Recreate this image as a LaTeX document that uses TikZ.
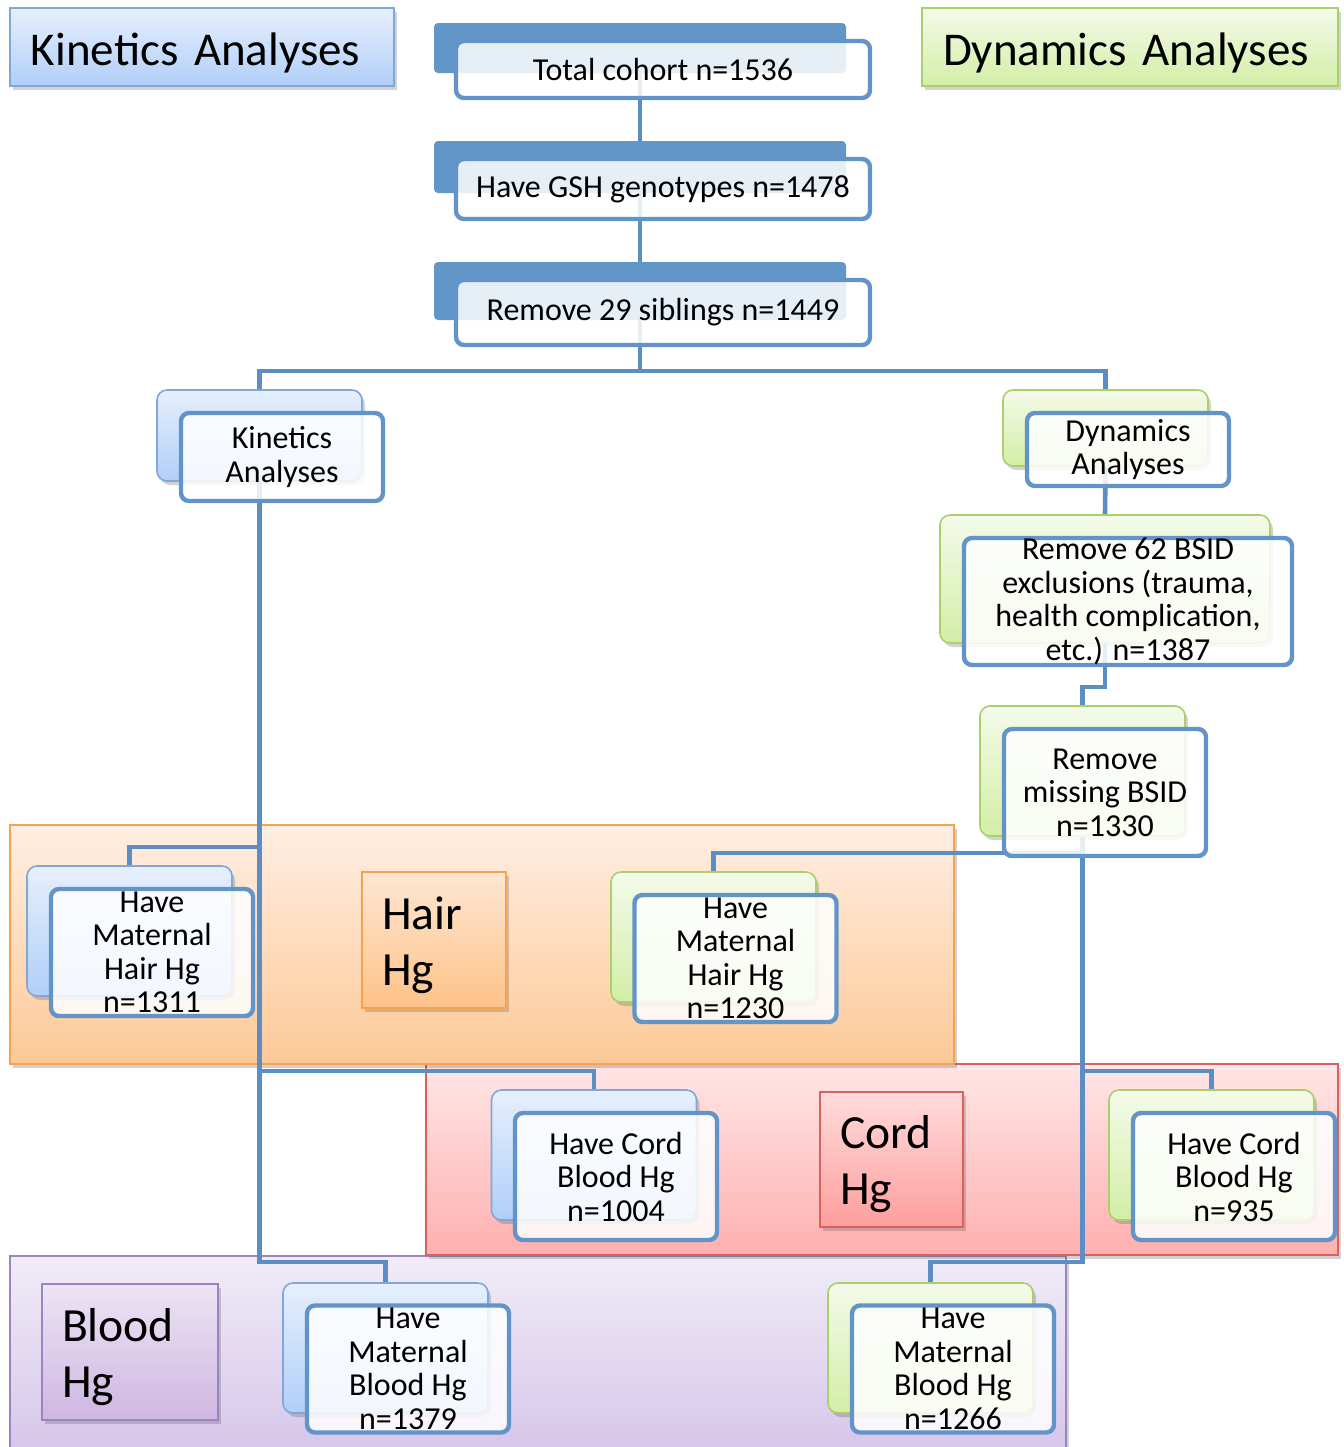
\documentclass[tikz,border=0pt]{standalone}
\usepackage{fontspec}
\setmainfont{Carlito}
\usetikzlibrary{shadows}
\pgfdeclarelayer{regions}
\pgfdeclarelayer{conns}
\pgfsetlayers{regions,conns,main}
\definecolor{connblue}{HTML}{5C8DC3}
\definecolor{frontblue}{HTML}{6394C9}
\definecolor{backblue}{HTML}{6396C8}
\definecolor{bluetop}{HTML}{E6EFFD}
\definecolor{bluebot}{HTML}{B0CFF8}
\definecolor{blueedge}{HTML}{7FA7D9}
\definecolor{greentop}{HTML}{F4FAEA}
\definecolor{greenbot}{HTML}{D3EEA6}
\definecolor{greenedge}{HTML}{A9D06B}
\definecolor{hairtop}{HTML}{FFEEE2}
\definecolor{hairbot}{HTML}{FDC997}
\definecolor{hairedge}{HTML}{F6A24E}
\definecolor{cordtop}{HTML}{FFE6E6}
\definecolor{cordbot}{HTML}{FEB0AF}
\definecolor{cordedge}{HTML}{D9625C}
\definecolor{bloodtop}{HTML}{F1ECF7}
\definecolor{bloodbot}{HTML}{D6C6EA}
\definecolor{bloodedge}{HTML}{9C83C2}
\newcommand{\lowered}[2]{\raisebox{-#1}[\height][\depth]{#2}}
\tikzset{
  sz/.style 2 args={minimum width=#1*0.5pt,minimum height=#2*0.5pt,inner sep=0pt},
  shadowed/.style={drop shadow={shadow xshift=1.5pt,shadow yshift=-2pt,opacity=0.25,fill=black!70}},
  conn/.style={draw=connblue,line width=2.3pt},
  solidback/.style={fill=backblue,rounded corners=2pt},
  blueback/.style={top color=bluetop,bottom color=bluebot,draw=blueedge,line width=0.8pt,rounded corners=5pt,shadowed},
  greenback/.style={top color=greentop,bottom color=greenbot,draw=greenedge,line width=0.8pt,rounded corners=5pt,shadowed},
  front/.style={fill=white,fill opacity=0.85,text opacity=1,draw=frontblue,line width=2.2pt,rounded corners=4pt,align=center,font=\fontsize{16}{16.75}\selectfont},
  header/.style={line width=0.9pt,shadowed,align=left,inner xsep=10.5pt,inner ysep=0pt,font=\fontsize{23.5}{28}\selectfont},
  region/.style={line width=0.9pt,shadowed},
  hglabel/.style={line width=0.9pt,shadowed,align=left,inner xsep=10pt,inner ysep=0pt,font=\fontsize{23.8}{28}\selectfont}
}
\begin{document}
\begin{tikzpicture}[x=0.5pt,y=-0.5pt]
\useasboundingbox (0,0) rectangle (1344,1447);

% ---------- regions ----------
\begin{pgfonlayer}{regions}
\node[region,sz={1056}{196},top color=bloodtop,bottom color=bloodbot,draw=bloodedge] (bloodreg) at (538,1354) {};
\node[region,sz={912}{191},top color=cordtop,bottom color=cordbot,draw=cordedge] (cordreg) at (882,1159.5) {};
\node[region,sz={944}{239},top color=hairtop,bottom color=hairbot,draw=hairedge] (hairreg) at (482,944.5) {};
\end{pgfonlayer}

% ---------- headers ----------
\node[header,minimum height=39pt,text width=171pt,top color=bluetop,bottom color=bluebot,draw=blueedge] (kinhead) at (202,47) {\lowered{3pt}{Kinetics Analyses}};
\node[header,minimum height=39pt,text width=187pt,top color=greentop,bottom color=greenbot,draw=greenedge] (dynhead) at (1130,47) {\lowered{3pt}{Dynamics Analyses}};

% ---------- region labels ----------
\node[hglabel,minimum height=68pt,text width=52pt,top color=hairtop!80!hairbot,bottom color=hairbot!90!orange,draw=hairedge] (hairlab) at (434,940) {\lowered{2.5pt}{Hair}\\\lowered{2.5pt}{Hg}};
\node[hglabel,minimum height=67.5pt,text width=51.5pt,top color=cordtop!80!cordbot,bottom color=cordbot!90!red,draw=cordedge] (cordlab) at (891.5,1159.5) {\lowered{2.5pt}{Cord}\\\lowered{2.5pt}{Hg}};
\node[hglabel,minimum height=68pt,text width=68pt,top color=bloodtop!80!bloodbot,bottom color=bloodbot!92!violet,draw=bloodedge] (bloodlab) at (130,1352) {\lowered{2.5pt}{Blood}\\\lowered{2.5pt}{Hg}};

% ---------- top stack ----------
\node[solidback,sz={412}{50}] (tcb) at (640,48) {};
\node[solidback,sz={412}{52}] (gshb) at (640,167) {};
\node[solidback,sz={412}{58}] (sibb) at (640,291) {};
\node[front,sz={414}{57}] (tc) at (663,69.5) {Total cohort n=1536};
\node[front,sz={414}{60}] (gsh) at (663,189) {Have GSH genotypes n=1478};
\node[front,sz={414}{65}] (sib) at (663,312.5) {Remove 29 siblings n=1449};

% ---------- kinetics side ----------
\node[blueback,sz={205}{91}] (kinb) at (259.5,435.5) {};
\node[front,sz={202}{88}] (kin) at (282,457) {Kinetics\\Analyses};
\node[blueback,sz={205}{130}] (khairb) at (129.5,931) {};
\node[front,sz={202}{127}] (khair) at (152,952.5) {Have\\Maternal\\Hair Hg\\n=1311};
\node[blueback,sz={205}{130}] (kcordb) at (594,1155) {};
\node[front,sz={202}{127}] (kcord) at (616,1176.5) {Have Cord\\Blood Hg\\n=1004};
\node[blueback,sz={205}{130}] (kbloodb) at (385.5,1348) {};
\node[front,sz={202}{127}] (kblood) at (408,1369) {Have\\Maternal\\Blood Hg\\n=1379};

% ---------- dynamics side ----------
\node[greenback,sz={205}{76}] (dynb) at (1105.5,428) {};
\node[front,sz={202}{73}] (dyn) at (1128,449.5) {Dynamics\\Analyses};
\node[greenback,sz={330}{128}] (rem62b) at (1105,579) {};
\node[front,sz={328}{127}] (rem62) at (1128,601.5) {Remove 62 BSID\\exclusions (trauma,\\health complication,\\etc.) n=1387};
\node[greenback,sz={205}{130}] (remmissb) at (1082.5,771) {};
\node[front,sz={202}{127}] (remmiss) at (1105,792.5) {Remove\\missing BSID\\n=1330};
\node[greenback,sz={205}{130}] (dhairb) at (713.5,937) {};
\node[front,sz={202}{127}] (dhair) at (735.5,958.5) {Have\\Maternal\\Hair Hg\\n=1230};
\node[greenback,sz={205}{130}] (dcordb) at (1211.5,1155) {};
\node[front,sz={202}{127}] (dcord) at (1234,1176.5) {Have Cord\\Blood Hg\\n=935};
\node[greenback,sz={205}{130}] (dbloodb) at (930.5,1348) {};
\node[front,sz={202}{127}] (dblood) at (953,1369) {Have\\Maternal\\Blood Hg\\n=1266};

% ---------- junctions ----------
\coordinate (split) at (640,371);
\coordinate (kj1) at (259.5,847);
\coordinate (kj2) at (259.5,1071);
\coordinate (kj3) at (259.5,1262);
\coordinate (dj0) at (1082.5,687);
\coordinate (dj1) at (1082.5,853);
\coordinate (dj2) at (1082.5,1071);
\coordinate (dj3) at (1082.5,1262);

% ---------- connectors ----------
\begin{pgfonlayer}{conns}
\draw[conn] (tcb.south) -- (gshb.north);
\draw[conn] (gshb.south) -- (sibb.north);
\draw[conn] (sibb.south) -- (split);
\draw[conn] (kinb.north) |- (split) -| (dynb.north);
\draw[conn] (kinb.south) -- (kj3) -| (kbloodb.north);
\draw[conn] (kj1) -| (khairb.north);
\draw[conn] (kj2) -| (kcordb.north);
\draw[conn] (dynb.south) -- (rem62b.north);
\draw[conn] (rem62b.south) |- (dj0) -- (remmissb.north);
\draw[conn] (remmissb.south) -- (dj3) -| (dbloodb.north);
\draw[conn] (dj1) -| (dhairb.north);
\draw[conn] (dj2) -| (dcordb.north);
\end{pgfonlayer}
\end{tikzpicture}
\end{document}
